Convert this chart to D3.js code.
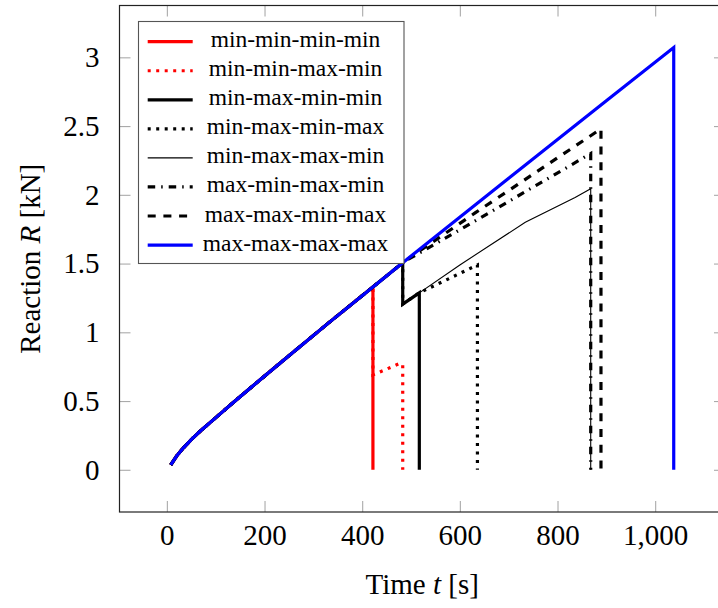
<!DOCTYPE html>
<html>
<head>
<meta charset="utf-8">
<script src="https://cdn.jsdelivr.net/npm/d3@7"></script>
<style>
  html, body { margin: 0; padding: 0; background: #fff; }
  svg { display: block; font-family: "Liberation Serif", "DejaVu Serif", serif; }
</style>
</head>
<body>
<svg id="chart" width="718" height="608"></svg>
<script>
// Shared loading ramp: every case follows this path until its first event.
const rampTime     = [8, 20, 34, 50, 68, 102, 136, 171, 250, 330, 422];
const rampReaction = [0.036, 0.10, 0.16, 0.22, 0.28, 0.385, 0.49, 0.595, 0.83, 1.065, 1.33];

// Branch of each case after the shared ramp (time [s], reaction [kN]).
const minMinMinMinTime     = [422, 422];
const minMinMinMinReaction = [1.33, 0];

const minMinMaxMinTime     = [422, 478, 483, 483];
const minMinMaxMinReaction = [0.69, 0.775, 0.765, 0];

const minMaxMinMinTime     = [483, 483, 517, 517];
const minMaxMinMinReaction = [1.505, 1.205, 1.287, 0];

const minMaxMinMaxTime     = [483, 483, 517, 636, 636];
const minMaxMinMaxReaction = [1.505, 1.205, 1.287, 1.49, 0];

const minMaxMaxMinTime     = [483, 483, 517, 600, 734, 836, 868, 868];
const minMaxMaxMinReaction = [1.505, 1.205, 1.287, 1.49, 1.80, 1.98, 2.044, 0];

const maxMinMaxMinTime     = [485, 600, 868, 868];
const maxMinMaxMinReaction = [1.512, 1.745, 2.30, 0];

const maxMaxMinMaxTime     = [485, 632, 889, 889];
const maxMaxMinMaxReaction = [1.512, 1.87, 2.48, 0];

const maxMaxMaxMaxTime     = [485, 700, 900, 1038, 1038];
const maxMaxMaxMaxReaction = [1.512, 2.12, 2.685, 3.072, 0];

const seriesNames = ["min-min-min-min", "min-min-max-min", "min-max-min-min", "min-max-min-max",
                     "min-max-max-min", "max-min-max-min", "max-max-min-max", "max-max-max-max"];

const xTicks = [0, 200, 400, 600, 800, 1000];
const xTickLabels = ["0", "200", "400", "600", "800", "1,000"];
const yTicks = [0, 0.5, 1, 1.5, 2, 2.5, 3];
const yTickLabels = ["0", "0.5", "1", "1.5", "2", "2.5", "3"];

// Line styles per case
const styles = [
  { color: "#ff0000", width: 3.2, dash: null },
  { color: "#ff0000", width: 3.2, dash: "3,5.5" },
  { color: "#000000", width: 3.2, dash: null },
  { color: "#000000", width: 3.2, dash: "3,5.5" },
  { color: "#000000", width: 1.1, dash: null },
  { color: "#000000", width: 3.2, dash: "7.5,6,1.5,6" },
  { color: "#000000", width: 3.2, dash: "8,7.7" },
  { color: "#0000ff", width: 3.2, dash: null }
];

const branches = [
  [minMinMinMinTime, minMinMinMinReaction],
  [minMinMaxMinTime, minMinMaxMinReaction],
  [minMaxMinMinTime, minMaxMinMinReaction],
  [minMaxMinMaxTime, minMaxMinMaxReaction],
  [minMaxMaxMinTime, minMaxMaxMinReaction],
  [maxMinMaxMinTime, maxMinMaxMinReaction],
  [maxMaxMinMaxTime, maxMaxMinMaxReaction],
  [maxMaxMaxMaxTime, maxMaxMaxMaxReaction]
];

const ramp = rampTime.map((t, i) => [t, rampReaction[i]]);
const series = branches.map(([ts, rs], k) => ({
  name: seriesNames[k],
  style: styles[k],
  points: ramp.concat(ts.map((t, i) => [t, rs[i]]))
}));

// Plot frame
const plotLeft = 119.5, plotRight = 725, plotTop = 5.5, plotBottom = 512;
const x = d3.scaleLinear().domain([-97, 1143]).range([plotLeft, plotRight]);
const y = d3.scaleLinear().domain([-0.307, 3.377]).range([plotBottom, plotTop]);

const svg = d3.select("#chart");

svg.append("defs").append("clipPath").attr("id", "plotClip")
  .append("rect").attr("x", plotLeft).attr("y", plotTop)
  .attr("width", plotRight - plotLeft).attr("height", plotBottom - plotTop);

const tickLen = 11;
const tickColor = "#aaaaaa";
const fontSize = 29;

function styleAxis(g, showLabels) {
  g.select(".domain").remove();
  g.selectAll(".tick line").attr("stroke", tickColor).attr("stroke-width", 1.1);
  g.selectAll(".tick text")
    .attr("fill", "#000")
    .style("font-size", fontSize + "px")
    .style("font-family", '"Liberation Serif", serif');
  if (!showLabels) g.selectAll(".tick text").remove();
}

// Bottom axis with labels, ticks pointing inward
svg.append("g").attr("transform", `translate(0,${plotBottom})`)
  .call(d3.axisBottom(x).tickValues(xTicks)
    .tickFormat((d, i) => xTickLabels[i]).tickSize(-tickLen).tickPadding(12))
  .call(g => styleAxis(g, true));

// Top axis: ticks only
svg.append("g").attr("transform", `translate(0,${plotTop})`)
  .call(d3.axisTop(x).tickValues(xTicks).tickSize(-tickLen))
  .call(g => styleAxis(g, false));

// Left axis with labels
svg.append("g").attr("transform", `translate(${plotLeft},0)`)
  .call(d3.axisLeft(y).tickValues(yTicks)
    .tickFormat((d, i) => yTickLabels[i]).tickSize(-tickLen).tickPadding(20))
  .call(g => styleAxis(g, true));

// Right axis: ticks only
svg.append("g").attr("transform", `translate(${plotRight},0)`)
  .call(d3.axisRight(y).tickValues(yTicks).tickSize(-tickLen))
  .call(g => styleAxis(g, false));

// Curves
const line = d3.line().x(d => x(d[0])).y(d => y(d[1]));
const plot = svg.append("g").attr("clip-path", "url(#plotClip)");
series.forEach(s => {
  plot.append("path")
    .attr("d", line(s.points))
    .attr("fill", "none")
    .attr("stroke", s.style.color)
    .attr("stroke-width", s.style.width)
    .attr("stroke-linejoin", "miter")
    .attr("stroke-dasharray", s.style.dash);
});

// Axis frame
svg.append("rect")
  .attr("x", plotLeft).attr("y", plotTop)
  .attr("width", plotRight - plotLeft).attr("height", plotBottom - plotTop)
  .attr("fill", "none").attr("stroke", "#222").attr("stroke-width", 1.2);

// Axis titles
const xTitle = svg.append("text")
  .attr("x", (plotLeft + plotRight) / 2).attr("y", 594)
  .attr("text-anchor", "middle")
  .style("font-size", fontSize + "px");
xTitle.append("tspan").text("Time ");
xTitle.append("tspan").attr("font-style", "italic").text("t");
xTitle.append("tspan").text(" [s]");

const yTitle = svg.append("text")
  .attr("transform", `translate(40,${(plotTop + plotBottom) / 2}) rotate(-90)`)
  .attr("text-anchor", "middle")
  .style("font-size", fontSize + "px");
yTitle.append("tspan").text("Reaction ");
yTitle.append("tspan").attr("font-style", "italic").text("R");
yTitle.append("tspan").text(" [kN]");

// Legend
const legX = 138.5, legY = 21.5, legW = 265.5, legH = 242;
const legend = svg.append("g");
legend.append("rect")
  .attr("x", legX).attr("y", legY).attr("width", legW).attr("height", legH)
  .attr("fill", "#fff").attr("stroke", "#555").attr("stroke-width", 1.1);

const rowStart = 41.7, rowStep = 29.05;
series.forEach((s, i) => {
  const ry = rowStart + i * rowStep;
  legend.append("line")
    .attr("x1", 147.7).attr("x2", 192.7).attr("y1", ry).attr("y2", ry)
    .attr("stroke", s.style.color)
    .attr("stroke-width", s.style.width)
    .attr("stroke-dasharray", s.style.dash);
  legend.append("text")
    .attr("x", 295.5).attr("y", ry + 5.5)
    .attr("text-anchor", "middle")
    .style("font-size", "23.5px")
    .text(s.name);
});
</script>
</body>
</html>
